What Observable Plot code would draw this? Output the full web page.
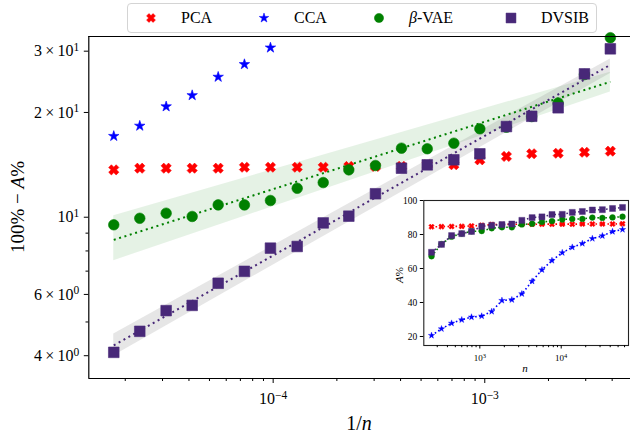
<!DOCTYPE html>
<html><head><meta charset="utf-8">
<script src="https://cdn.jsdelivr.net/npm/d3@7"></script>
<script src="https://cdn.jsdelivr.net/npm/@observablehq/plot@0.6"></script>
<style>
body{margin:0;background:#fff;}
#wrap{position:relative;width:630px;height:436px;overflow:hidden;font-family:"Liberation Serif","Times New Roman",serif;}
#wrap svg.plot{position:absolute;overflow:visible;background:transparent;}
#wrap svg text{font-family:"Liberation Serif","Times New Roman",serif;}
#legend{position:absolute;left:127px;top:3px;width:468px;height:28px;border:1px solid #d4d4d4;border-radius:4px;background:rgba(255,255,255,0.85);}
#legend .lab{position:absolute;top:5px;font-size:16px;line-height:18px;color:#000;}
#legend svg{position:absolute;top:0;}
</style></head><body><div id="wrap"></div>
<script>
// ---------------- data ----------------
const methods = ["PCA", "CCA", "β-VAE", "DVSIB"];
const nVals = [255, 338, 450, 600, 790, 1055, 1400, 1870, 2475, 3285, 4390, 5800, 7700, 10300, 13670, 18190, 24140, 32040, 42700, 56660];
// error 100% - A% for each n
const errPCA = [15.48, 15.37, 15.27, 15.22, 14.95, 14.62, 14.15, 14.15, 14.0, 13.99, 13.99, 13.92, 13.92, 13.92, 13.92, 13.83, 13.83, 13.83, 13.83, 13.68];
const errCCA = [79.4, 75.5, 72.2, 70.2, 68.6, 68.0, 65.3, 58.8, 58.4, 54.9, 47.5, 40.8, 35.3, 30.7, 27.5, 25.3, 22.4, 20.8, 18.3, 17.1];
const errVAE = [32.8, 25.7, 21.3, 19.47, 18.14, 17.95, 16.32, 15.73, 15.79, 14.08, 13.68, 12.58, 12.11, 11.17, 10.85, 10.85, 10.05, 10.27, 9.93, 9.51];
const errDVSIB = [30.47, 25.82, 20.63, 19.5, 18.22, 15.21, 14.62, 14.14, 13.83, 11.68, 10.07, 9.63, 8.24, 8.15, 6.99, 6.46, 5.58, 5.39, 4.70, 4.09];
// power-law fits (at largest and smallest n) with bands
const fitN = [56660, 255];
const fitVAE = [8.61, 24.5], bandVAELo = [7.5, 22.9], bandVAEHi = [10.1, 26.1];
const fitDVSIB = [4.28, 27.4], bandDVLo = [4.0, 25.9], bandDVHi = [4.62, 28.5];
// ticks
const xMajor = [1e-4, 1e-3];
const xMinor = [2e-5,3e-5,4e-5,5e-5,6e-5,7e-5,8e-5,9e-5,2e-4,3e-4,4e-4,5e-4,6e-4,7e-4,8e-4,9e-4,2e-3,3e-3,4e-3];
const yLabeled = [4, 6, 10, 20, 30];
const yMinor = [5, 7, 8, 9];
const insetXMajor = [1e3, 1e4];
const insetXMinor = [300,400,500,600,700,800,900,2000,3000,4000,5000,6000,7000,8000,9000,20000,30000,40000,50000,60000];
const insetYTicks = [20, 40, 60, 80, 100];

const colors = {"PCA": "red", "CCA": "blue", "β-VAE": "green", "DVSIB": "#482878"};
const errs = {"PCA": errPCA, "CCA": errCCA, "β-VAE": errVAE, "DVSIB": errDVSIB};
const rows = methods.flatMap(m => nVals.map((n, i) => ({method: m, n, inv: 1 / n, err: errs[m][i], acc: 100 - errs[m][i]})));
const fitRows = (f, lo, hi) => fitN.map((n, i) => ({inv: 1 / n, y: f[i], lo: lo[i], hi: hi[i]}));
const fVAE = fitRows(fitVAE, bandVAELo, bandVAEHi), fDV = fitRows(fitDVSIB, bandDVLo, bandDVHi);

// filled X symbol (matplotlib 'X')
const xFilled = {draw(ctx, size) {
  const r = Math.sqrt(size / Math.PI), a = r * 1.15, t = r * 0.42;
  const pts = [[-t,a],[t,a],[t,t],[a,t],[a,-t],[t,-t],[t,-a],[-t,-a],[-t,-t],[-a,-t],[-a,t],[-t,t]];
  const s = Math.SQRT1_2;
  pts.forEach(([x, y], i) => { const X = (x - y) * s, Y = (x + y) * s; i ? ctx.lineTo(X, Y) : ctx.moveTo(X, Y); });
  ctx.closePath();
}};
const symbols = {"PCA": xFilled, "CCA": d3.symbolStar, "β-VAE": d3.symbolCircle, "DVSIB": d3.symbolSquare};
const rMain = {"PCA": 4.6, "CCA": 3.3, "β-VAE": 5.3, "DVSIB": 6.0};
const rInset = {"PCA": 2.5, "CCA": 2.0, "β-VAE": 2.9, "DVSIB": 3.4};

const xDomain = [1.345e-5, 4.883e-3];
const yDomain = [3.44, 33.06];
const font = "'Liberation Serif', 'Times New Roman', serif";

function supFix(svg) {
  const ns = "http://www.w3.org/2000/svg";
  d3.select(svg).selectAll("text").each(function () {
    const s = this.textContent, i = s.indexOf("^");
    if (i < 0) return;
    this.textContent = "";
    const t1 = document.createElementNS(ns, "tspan"); t1.textContent = s.slice(0, i); this.appendChild(t1);
    const t2 = document.createElementNS(ns, "tspan"); t2.textContent = s.slice(i + 1);
    t2.setAttribute("dy", "-0.45em"); t2.setAttribute("font-size", "72%"); this.appendChild(t2);
  });
}
const fmtX = d => "10^−" + Math.round(-Math.log10(d));
const fmtY = d => { const e = Math.floor(Math.log10(d) + 1e-9), m = Math.round(d / 10 ** e); return (m === 1 ? "" : m + "\u2009×\u2009") + "10^" + e; };
const dotted = {strokeWidth: 2, strokeDasharray: "2,3.6", strokeLinecap: "butt"};

const main = Plot.plot({
  width: 630, height: 436, marginLeft: 88.3, marginRight: 0, marginTop: 36, marginBottom: 58,
  x: {type: "log", domain: xDomain},
  y: {type: "log", domain: yDomain},
  style: {fontFamily: font, fontSize: "16px", color: "black", background: "transparent"},
  marks: [
    Plot.areaY(fVAE, {x: "inv", y1: "lo", y2: "hi", fill: "green", fillOpacity: 0.1}),
    Plot.areaY(fDV, {x: "inv", y1: "lo", y2: "hi", fill: "gray", fillOpacity: 0.2}),
    Plot.line(fVAE, {x: "inv", y: "y", stroke: "green", ...dotted}),
    Plot.line(fDV, {x: "inv", y: "y", stroke: colors["DVSIB"], ...dotted}),
    ...methods.map(m => Plot.dot(rows.filter(d => d.method === m && d.err <= yDomain[1]), {
      x: "inv", y: "err", symbol: symbols[m], r: rMain[m], fill: colors[m], stroke: colors[m], strokeWidth: 0.6})),
    Plot.ruleY([yDomain[0]], {stroke: "black", strokeWidth: 1.2}),
    Plot.ruleY([yDomain[1]], {stroke: "black", strokeWidth: 1.2}),
    Plot.ruleX([xDomain[0]], {stroke: "black", strokeWidth: 1.2}),
    Plot.axisX({ticks: xMajor, tickSize: 5, tickPadding: 9, tickFormat: fmtX, label: null, fontSize: 16, fontFamily: font}),
    Plot.axisX({ticks: xMinor, tickSize: 3, tickFormat: () => "", label: null}),
    Plot.axisY({ticks: yLabeled, tickSize: 4.5, tickPadding: 5, tickFormat: fmtY, label: null, fontSize: 16, fontFamily: font}),
    Plot.axisY({ticks: yMinor, tickSize: 2.8, tickFormat: () => "", label: null})
  ]
});
main.classList.add("plot");
main.style.left = "0px"; main.style.top = "0px";
supFix(main);
const gm = d3.select(main);
gm.append("text").attr("x", 359).attr("y", 430).attr("text-anchor", "middle").attr("font-size", 20).attr("font-family", font)
  .call(t => { t.append("tspan").text("1/"); t.append("tspan").attr("font-style", "italic").text("n"); });
gm.append("text").attr("transform", "translate(24,207) rotate(-90)").attr("text-anchor", "middle").attr("font-size", 19).attr("font-family", font)
  .call(t => { t.append("tspan").text("100% − "); t.append("tspan").attr("font-style", "italic").text("A"); t.append("tspan").text("%"); });

// ---------------- inset ----------------
const inset = Plot.plot({
  width: 242, height: 190, marginLeft: 35.3, marginRight: 2, marginTop: 10, marginBottom: 35,
  x: {type: "log", domain: [205, 67100]},
  y: {domain: [14.7, 100]},
  style: {fontFamily: font, fontSize: "9px", color: "black", background: "transparent"},
  marks: [
    Plot.frame({fill: "white", stroke: null}),
    ...methods.map(m => Plot.line(rows.filter(d => d.method === m), {x: "n", y: "acc", stroke: colors[m], strokeWidth: 1.6, strokeDasharray: "1.6,2.4", strokeLinecap: "butt"})),
    ...methods.map(m => Plot.dot(rows.filter(d => d.method === m), {x: "n", y: "acc", symbol: symbols[m], r: rInset[m], fill: colors[m], stroke: colors[m], strokeWidth: 0.4})),
    Plot.frame({stroke: "#222", strokeWidth: 1.1}),
    Plot.axisX({ticks: insetXMajor, tickSize: 3.5, tickPadding: 6, tickFormat: d => "10^" + Math.round(Math.log10(d)), label: null, fontSize: 9, fontFamily: font}),
    Plot.axisX({ticks: insetXMinor, tickSize: 2.2, tickFormat: () => "", label: null}),
    Plot.axisY({ticks: insetYTicks, tickSize: 3.5, tickPadding: 3, label: null, fontSize: 9.5, fontFamily: font})
  ]
});
inset.classList.add("plot");
inset.style.left = "388px"; inset.style.top = "190px";
supFix(inset);
const gi = d3.select(inset);
gi.append("text").attr("x", 137).attr("y", 182).attr("text-anchor", "middle").attr("font-size", 11).attr("font-style", "italic").attr("font-family", font).text("n");
gi.append("text").attr("transform", "translate(15,85) rotate(-90)").attr("text-anchor", "middle").attr("font-size", 11).attr("font-family", font)
  .call(t => { t.append("tspan").attr("font-style", "italic").text("A"); t.append("tspan").text("%"); });

const wrap = document.getElementById("wrap");
wrap.appendChild(main);
wrap.appendChild(inset);

// ---------------- legend ----------------
const legend = document.createElement("div");
legend.id = "legend";
const legX = {"PCA": [23, 53], "CCA": [136, 166], "β-VAE": [251, 281], "DVSIB": [383, 413]};
const legR = {"PCA": 4.0, "CCA": 3.0, "β-VAE": 4.6, "DVSIB": 5.6};
methods.forEach(m => {
  const [sx, tx] = legX[m];
  const s = d3.create("svg").attr("width", 20).attr("height", 28).style("left", (sx - 10) + "px");
  s.append("path").attr("transform", "translate(10,14)").attr("d", d3.symbol(symbols[m], Math.PI * legR[m] ** 2)())
    .attr("fill", colors[m]).attr("stroke", colors[m]).attr("stroke-width", 0.5);
  legend.appendChild(s.node());
  const lab = document.createElement("span");
  lab.className = "lab"; lab.style.left = tx + "px";
  if (m === "β-VAE") lab.innerHTML = "<i>β</i>-VAE"; else lab.textContent = m;
  legend.appendChild(lab);
});
wrap.appendChild(legend);
</script></body></html>
